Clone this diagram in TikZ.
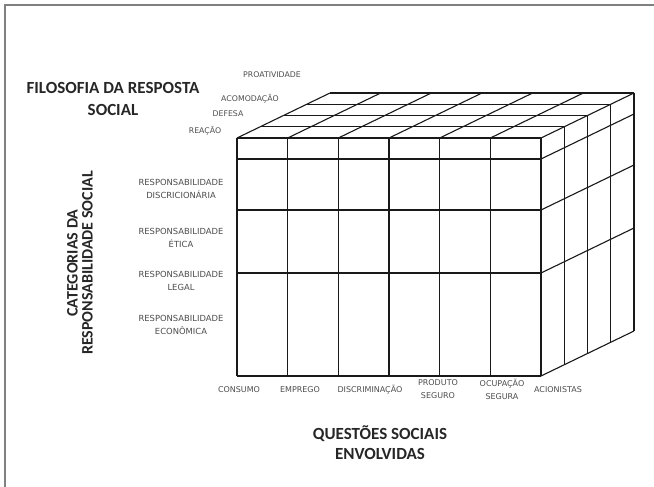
\documentclass[tikz,border=0pt]{standalone}
\usepackage{fontspec}
\setmainfont{Carlito}
\newfontfamily\smallfont{DejaVu Sans}

\begin{document}
\begin{tikzpicture}[x=1pt,y=-1pt]
\tikzstyle{grid}=[draw=black!90,line width=1.1pt]
\tikzstyle{title}=[font=\bfseries\fontsize{17}{22}\selectfont,align=center,text=black!85,inner sep=0pt]
\tikzstyle{tiny}=[font=\smallfont\fontsize{8}{13}\selectfont,align=center,text=black!70,inner sep=0pt]
\useasboundingbox (0,0) rectangle (654,487);

% frame
\draw[gray,line width=2.5pt] (5,487) -- (5,5) -- (654,5);

% front face
\foreach \i in {0,...,6}
  \draw[grid] (237+\i*50.67,138) -- (237+\i*50.67,376);
\foreach \y in {138,159,210,273,376}
  \draw[grid] (237,\y) -- (541,\y);

% top face
\foreach \i in {0,...,6}
  \draw[grid] (237+\i*50.67,138) -- ++(93,-45);
\foreach \j in {1,...,4}
  \draw[grid] (237+\j*23.25,138-\j*11.25) -- ++(304,0);

% right face
\foreach \j in {1,...,4}
  \draw[grid] (541+\j*23.25,138-\j*11.25) -- ++(0,238);
\foreach \y in {159,210,273,376}
  \draw[grid] (541,\y) -- ++(93,-45);

% titles
\path (113,99) node[title] (filosofia) {FILOSOFIA DA RESPOSTA\\SOCIAL};
\path (80,263) node[title,rotate=90,font=\bfseries\fontsize{16}{15}\selectfont] (categorias) {CATEGORIAS DA\\RESPONSABILIDADE SOCIAL};
\path (380,443) node[title,font=\bfseries\fontsize{17}{20}\selectfont] (questoes) {QUESTÕES SOCIAIS\\ENVOLVIDAS};

% response layers
\path (272,75) node[tiny,font=\smallfont\fontsize{7.8}{10}\selectfont] (proatividade) {PROATIVIDADE};
\path (250,99) node[tiny,font=\smallfont\fontsize{7.8}{10}\selectfont] (acomodacao) {ACOMODAÇÃO};
\path (228,114) node[tiny,font=\smallfont\fontsize{7.8}{10}\selectfont] (defesa) {DEFESA};
\path (205,131) node[tiny,font=\smallfont\fontsize{7.8}{10}\selectfont] (reacao) {REAÇÃO};

% responsibility categories
\path (181,189) node[tiny,font=\smallfont\fontsize{8.4}{13}\selectfont] (discricionaria) {RESPONSABILIDADE\\DISCRICIONÁRIA};
\path (181,238) node[tiny,font=\smallfont\fontsize{8.4}{13}\selectfont] (etica) {RESPONSABILIDADE\\ÉTICA};
\path (181,281) node[tiny,font=\smallfont\fontsize{8.4}{13}\selectfont] (legal) {RESPONSABILIDADE\\LEGAL};
\path (181,325) node[tiny,font=\smallfont\fontsize{8.4}{13}\selectfont] (economica) {RESPONSABILIDADE\\ECONÔMICA};

% social issues
\path (239,390) node[tiny] (consumo) {CONSUMO};
\path (300,390) node[tiny] (emprego) {EMPREGO};
\path (370,390) node[tiny] (discriminacao) {DISCRIMINAÇÃO};
\path (438,389) node[tiny] (produto) {PRODUTO\\SEGURO};
\path (502,389) node[tiny] (ocupacao) {OCUPAÇÃO\\SEGURA};
\path (558,390) node[tiny] (acionistas) {ACIONISTAS};
\end{tikzpicture}
\end{document}
